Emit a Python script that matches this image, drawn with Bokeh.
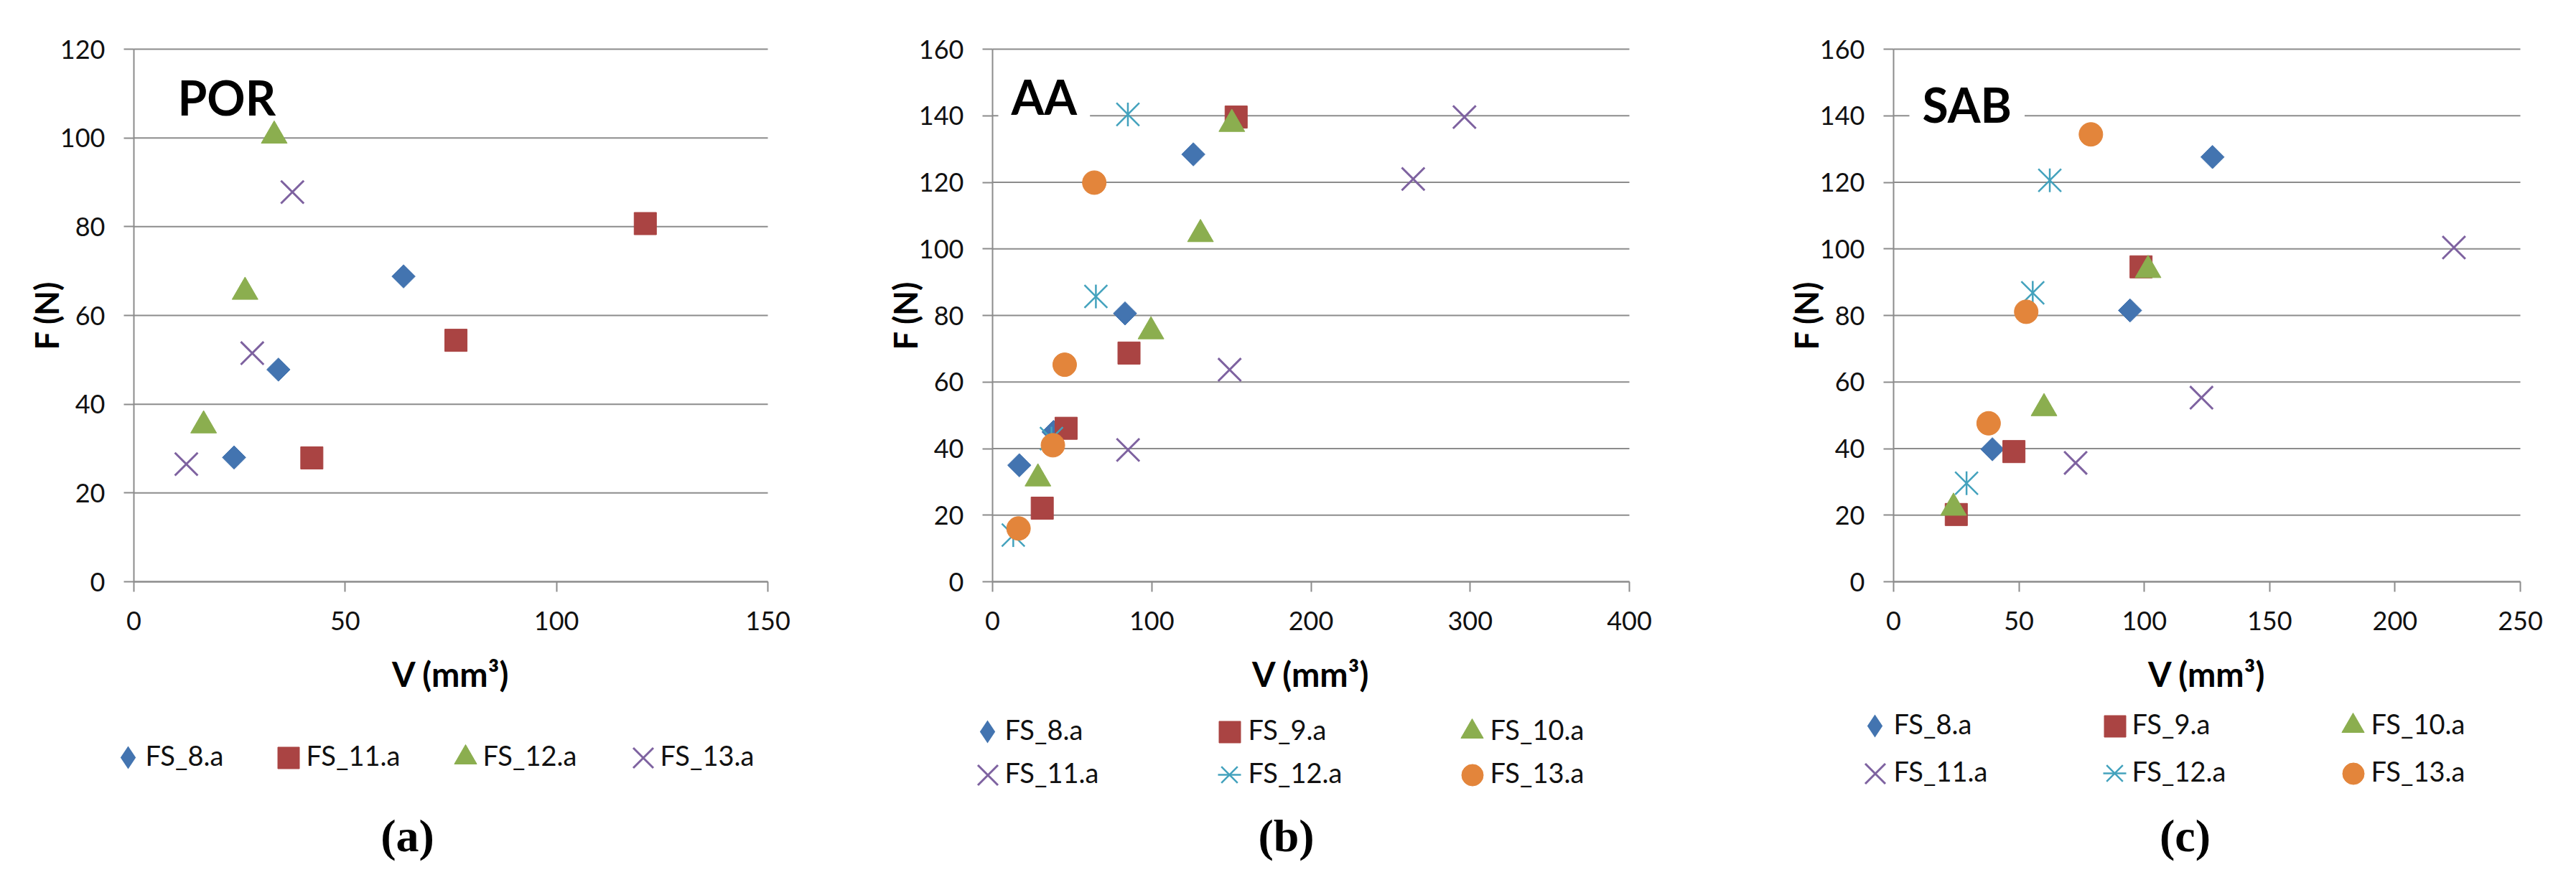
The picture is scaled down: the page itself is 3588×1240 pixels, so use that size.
import math
from bokeh.plotting import figure
from bokeh.layouts import row
from bokeh.models import Range1d, FixedTicker, Legend, LegendItem, Label, LinearAxis
from bokeh.embed import file_html
from bokeh.resources import INLINE

# ---------------- data ----------------
# (a) POR
POR_SERIES = ["FS_8.a", "FS_11.a", "FS_12.a", "FS_13.a"]
POR_FS8_V = [23.7, 34.2, 63.8]
POR_FS8_F = [28.0, 47.8, 68.8]
POR_FS11_V = [42.1, 76.2, 121.0]
POR_FS11_F = [27.9, 54.4, 80.7]
POR_FS12_V = [16.5, 26.3, 33.2]
POR_FS12_F = [35.2, 65.3, 100.5]
POR_FS13_V = [12.4, 28.0, 37.5]
POR_FS13_F = [26.5, 51.5, 87.8]
POR_X_TICKS = [0, 50, 100, 150]
POR_Y_TICKS = [0, 20, 40, 60, 80, 100, 120]

# (b) AA
AA_SERIES = ["FS_8.a", "FS_9.a", "FS_10.a", "FS_11.a", "FS_12.a", "FS_13.a"]
AA_FS8_V = [16.8, 38.3, 83.2, 126.1]
AA_FS8_F = [35.0, 45.0, 80.6, 128.4]
AA_FS9_V = [31.2, 46.2, 85.7, 153.0]
AA_FS9_F = [22.1, 46.1, 68.7, 139.6]
AA_FS10_V = [28.5, 99.5, 130.6, 150.3]
AA_FS10_F = [31.0, 75.2, 104.4, 137.5]
AA_FS11_V = [85.1, 148.9, 264.2, 296.4]
AA_FS11_F = [39.6, 63.7, 121.0, 139.6]
AA_FS12_V = [13.0, 37.0, 64.9, 85.0]
AA_FS12_F = [14.0, 43.0, 85.7, 140.4]
AA_FS13_V = [16.3, 37.9, 45.3, 63.9]
AA_FS13_F = [16.0, 41.0, 65.2, 119.9]
AA_X_TICKS = [0, 100, 200, 300, 400]
AA_Y_TICKS = [0, 20, 40, 60, 80, 100, 120, 140, 160]

# (c) SAB
SAB_SERIES = ["FS_8.a", "FS_9.a", "FS_10.a", "FS_11.a", "FS_12.a", "FS_13.a"]
SAB_FS8_V = [39.4, 94.3, 127.2]
SAB_FS8_F = [39.8, 81.5, 127.6]
SAB_FS9_V = [25.0, 48.0, 98.7]
SAB_FS9_F = [20.2, 39.1, 94.6]
SAB_FS10_V = [23.9, 60.0, 101.5]
SAB_FS10_F = [22.2, 52.1, 93.6]
SAB_FS11_V = [72.6, 122.8, 223.5]
SAB_FS11_F = [35.7, 55.3, 100.4]
SAB_FS12_V = [29.1, 55.5, 62.3]
SAB_FS12_F = [29.6, 86.8, 120.6]
SAB_FS13_V = [37.9, 52.9, 78.7]
SAB_FS13_F = [47.6, 81.1, 134.4]
SAB_X_TICKS = [0, 50, 100, 150, 200, 250]
SAB_Y_TICKS = [0, 20, 40, 60, 80, 100, 120, 140, 160]

X_LABEL = "V (mm³)"
Y_LABEL = "F (N)"

# ---------------- styles ----------------
FONT = "Lato"
GRID = "#8C8C8C"
TXT = "#111111"
BLUE, RED, GREEN, PURPLE, AQUA, ORANGE = "#4374B0", "#AA4443", "#8BAE4F", "#7E62A0", "#43A2BD", "#E3853B"

# style: plot parts (marker, size, angle, line_width), legend-key parts, colour, legend box
ST_DIAMOND = ([("square", 23, math.pi / 4, 1)], [("diamond", 1)], BLUE, 80)
ST_SQUARE = ([("square", 31, 0, 1)], None, RED, 75)
ST_TRI = ([("triangle", 36, 0, 1)], None, GREEN, 78)
ST_X = ([("x", 45, 0, 3)], None, PURPLE, 99)
ST_AST = ([("x", 45, 0, 2.5), ("dash", 33, math.pi / 2, 2.5)], None, AQUA, 80)
ST_CIRC = ([("circle", 33, 0, 1)], None, ORANGE, 75)

PAGE_TOP = 8
FRAME_TOP = 76
FRAME_BOTTOM = 818
PAGE_BOTTOM = 1232
FIG_H = PAGE_BOTTOM - PAGE_TOP


def make_panel(fig_x0, width, frame_left, frame_right, x_ticks, y_ticks,
               series, tag, tag_xy, tag_bg, legend_places, panel_label, panel_label_x):
    xmax, ymax = x_ticks[-1], y_ticks[-1]
    sx = (frame_right - frame_left) / xmax
    sy = (FRAME_BOTTOM - FRAME_TOP) / ymax
    x_rng = Range1d(-(frame_left - fig_x0) / sx, xmax + (fig_x0 + width - frame_right) / sx)
    y_rng = Range1d(-(PAGE_BOTTOM - FRAME_BOTTOM) / sy, ymax + (FRAME_TOP - PAGE_TOP) / sy)
    p = figure(width=width, height=FIG_H, x_range=x_rng, y_range=y_rng,
               output_backend="svg", toolbar_location=None,
               x_axis_location=None, y_axis_location=None, min_border=0)
    p.outline_line_color = None
    p.grid.visible = False

    # horizontal grid lines at the y ticks, from x=0 to x=xmax
    p.segment(x0=[0] * len(y_ticks), x1=[xmax] * len(y_ticks), y0=y_ticks, y1=y_ticks,
              line_color=GRID, line_width=2, level="underlay")

    xaxis = LinearAxis(fixed_location=0, bounds=(0, xmax), ticker=FixedTicker(ticks=x_ticks),
                       axis_label=X_LABEL)
    yaxis = LinearAxis(fixed_location=0, bounds=(0, ymax), ticker=FixedTicker(ticks=y_ticks),
                       axis_label=Y_LABEL)
    for ax in (xaxis, yaxis):
        ax.axis_line_color = GRID
        ax.axis_line_width = 2
        ax.major_tick_line_color = GRID
        ax.major_tick_line_width = 2
        ax.major_tick_out = 14
        ax.major_tick_in = 0
        ax.minor_tick_line_color = None
        ax.major_label_text_font = FONT
        ax.major_label_text_font_size = "36px"
        ax.major_label_text_color = TXT
        ax.axis_label_text_font = FONT
        ax.axis_label_text_font_style = "bold"
        ax.axis_label_text_color = "black"
    xaxis.axis_label_text_font_size = "47px"
    yaxis.axis_label_text_font_size = "45px"
    yaxis.major_label_standoff = 26
    xaxis.major_label_standoff = 27
    yaxis.axis_label_standoff = -11
    xaxis.axis_label_standoff = 30
    p.add_layout(xaxis, "below")
    p.add_layout(yaxis, "left")

    key_renderers = {}
    for name, xs, ys, st in series:
        parts, key_parts, color, _ = st
        rs = []
        for marker, size, angle, lw in parts:
            rs.append(p.scatter(xs, ys, marker=marker, size=size, angle=angle,
                                fill_color=color, line_color=color, line_width=lw))
        if key_parts:
            # zero-size twin of the series: only its legend key is visible
            rs = [p.scatter(xs, ys, marker=m, size=0, fill_color=color, line_color=None)
                  for m, _ in key_parts]
        key_renderers[name] = (rs, st)

    # legend keys (one small Legend per entry) + entry texts
    for name, cx, cy, tx in legend_places:
        rs, st = key_renderers[name]
        g = st[3]
        rel_x = cx - fig_x0
        rel_y = PAGE_BOTTOM - cy
        lg = Legend(items=[LegendItem(label="", renderers=rs)],
                    location=(rel_x - g / 2, rel_y - g / 2),
                    orientation="horizontal",
                    glyph_width=g, glyph_height=g, label_height=g, label_width=0,
                    label_standoff=0, padding=0, margin=0, spacing=0,
                    border_line_color=None, background_fill_alpha=0,
                    label_text_font_size="1px")
        p.add_layout(lg)
        p.add_layout(Label(x=tx - fig_x0, y=PAGE_BOTTOM - cy + 4,
                           x_units="screen", y_units="screen", text=name,
                           text_font=FONT, text_font_size="38px", text_color=TXT,
                           text_align="left", text_baseline="middle"))

    p.add_layout(Label(x=panel_label_x - fig_x0, y=PAGE_BOTTOM - 1172,
                       x_units="screen", y_units="screen", text=panel_label,
                       text_font="Liberation Serif", text_font_style="bold",
                       text_font_size="64px", text_color="black",
                       text_align="center", text_baseline="middle"))

    tx, ty = tag_xy
    pad = 18 if tag_bg else 0
    lab = Label(x=tx - fig_x0 - pad, y=PAGE_BOTTOM - ty + 7, x_units="screen", y_units="screen",
                text=tag, text_font=FONT, text_font_style="bold", text_font_size="66px",
                text_color="black", text_baseline="middle", text_align="left")
    if tag_bg:
        lab.background_fill_color = "white"
        lab.padding = pad
    p.add_layout(lab)
    return p


por_series = [
    (POR_SERIES[0], POR_FS8_V, POR_FS8_F, ST_DIAMOND),
    (POR_SERIES[1], POR_FS11_V, POR_FS11_F, ST_SQUARE),
    (POR_SERIES[2], POR_FS12_V, POR_FS12_F, ST_TRI),
    (POR_SERIES[3], POR_FS13_V, POR_FS13_F, ST_X),
]
aa_series = [
    (AA_SERIES[0], AA_FS8_V, AA_FS8_F, ST_DIAMOND),
    (AA_SERIES[1], AA_FS9_V, AA_FS9_F, ST_SQUARE),
    (AA_SERIES[2], AA_FS10_V, AA_FS10_F, ST_TRI),
    (AA_SERIES[3], AA_FS11_V, AA_FS11_F, ST_X),
    (AA_SERIES[4], AA_FS12_V, AA_FS12_F, ST_AST),
    (AA_SERIES[5], AA_FS13_V, AA_FS13_F, ST_CIRC),
]
sab_series = [
    (SAB_SERIES[0], SAB_FS8_V, SAB_FS8_F, ST_DIAMOND),
    (SAB_SERIES[1], SAB_FS9_V, SAB_FS9_F, ST_SQUARE),
    (SAB_SERIES[2], SAB_FS10_V, SAB_FS10_F, ST_TRI),
    (SAB_SERIES[3], SAB_FS11_V, SAB_FS11_F, ST_X),
    (SAB_SERIES[4], SAB_FS12_V, SAB_FS12_F, ST_AST),
    (SAB_SERIES[5], SAB_FS13_V, SAB_FS13_F, ST_CIRC),
]

por_leg = [(POR_SERIES[i], cx, 1063, tx) for i, (cx, tx) in
           enumerate([(186, 210), (409, 434), (656, 680), (903, 927)])]
aa_cols = [(1383, 1407), (1720, 1746), (2058, 2083)]
aa_leg = [(AA_SERIES[i], aa_cols[i % 3][0], [1027, 1087][i // 3], aa_cols[i % 3][1])
          for i in range(6)]
sab_cols = [(2619, 2645), (2953, 2977), (3285, 3310)]
sab_leg = [(SAB_SERIES[i], sab_cols[i % 3][0], [1019, 1085][i // 3], sab_cols[i % 3][1])
           for i in range(6)]

pa = make_panel(8, 1182, 194, 1077, POR_X_TICKS, POR_Y_TICKS, por_series, "POR",
                (255, 150), False, por_leg, "(a)", 575)
pb = make_panel(1190, 1198, 1390, 2277, AA_X_TICKS, AA_Y_TICKS, aa_series, "AA",
                (1416, 149), True, aa_leg, "(b)", 1799)
pc = make_panel(2388, 1192, 2645, 3518, SAB_X_TICKS, SAB_Y_TICKS, sab_series, "SAB",
                (2685, 160), True, sab_leg, "(c)", 3051)

layout = row(pa, pb, pc, spacing=0)
open("out.html", "w").write(file_html(layout, INLINE))
